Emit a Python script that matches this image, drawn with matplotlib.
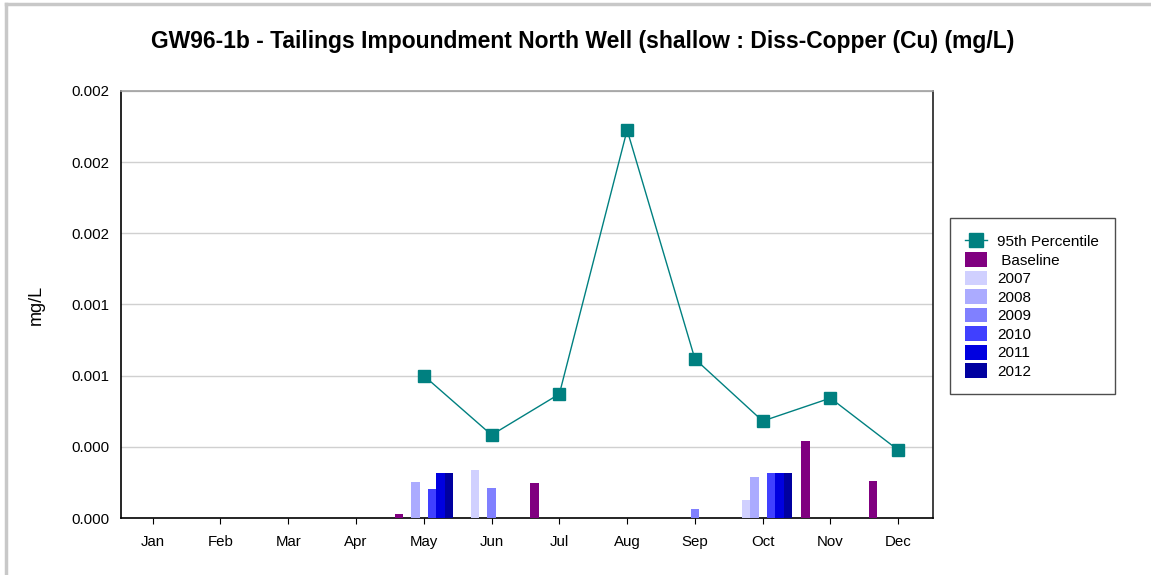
import matplotlib
matplotlib.use("Agg")
import matplotlib.pyplot as plt
import numpy as np
from matplotlib.lines import Line2D
from matplotlib.patches import Patch

plt.rcParams['font.family'] = ['Liberation Sans', 'DejaVu Sans']

meses = ['Jan', 'Feb', 'Mar', 'Apr', 'May', 'Jun', 'Jul', 'Aug', 'Sep', 'Oct', 'Nov', 'Dec']

# 95th percentile (no value Jan-Apr)
p95 = [np.nan, np.nan, np.nan, np.nan, 0.00080, 0.000467, 0.000697, 0.00218,
       0.000894, 0.000545, 0.000674, 0.000382]

series = ['Baseline', '2007', '2008', '2009', '2010', '2011', '2012']
baseline = [0, 0, 0, 0, 0.000024, 0, 0.000198, 0, 0, 0, 0.000435, 0.00021]
a2007 = [0, 0, 0, 0, 0, 0.000272, 0, 0, 0, 0.000103, 0, 0]
a2008 = [0, 0, 0, 0, 0.000204, 0, 0, 0, 0, 0.000232, 0, 0]
a2009 = [0, 0, 0, 0, 0, 0.00017, 0, 0, 0.000052, 0, 0, 0]
a2010 = [0, 0, 0, 0, 0.000165, 0, 0, 0, 0, 0.000255, 0, 0]
a2011 = [0, 0, 0, 0, 0.000255, 0, 0, 0, 0, 0.000255, 0, 0]
a2012 = [0, 0, 0, 0, 0.000255, 0, 0, 0, 0, 0.000255, 0, 0]
valores = [baseline, a2007, a2008, a2009, a2010, a2011, a2012]
cores = ['#800080', '#D0D0FF', '#ABABFF', '#8080FF', '#4040FF', '#0000E0', '#0000A0']

yticks = [0, 0.0004, 0.0008, 0.0012, 0.0016, 0.002, 0.0024]

fig = plt.figure(figsize=(11.51, 5.75), dpi=100)
ax = fig.add_axes([0.105, 0.099, 0.706, 0.743])

x = np.arange(len(meses))
larg = 0.123
for i, (nome, vals, cor) in enumerate(zip(series, valores, cores)):
    ax.bar(x + (i - 3) * larg, vals, width=larg, color=cor, zorder=3)

ax.plot(x, p95, color='#008080', lw=1, marker='s', markersize=8,
        markerfacecolor='#008080', markeredgecolor='#008080', zorder=4)

ax.set_xlim(-0.47, 11.52)
ax.set_ylim(0, 0.0024)
ax.set_xticks(x)
ax.set_xticklabels(meses, fontsize=10.8)
ax.set_yticks(yticks)
ax.set_yticklabels([f'{v:.3f}' for v in yticks], fontsize=10.8)
ax.yaxis.grid(True, color='#d0d0d0', lw=1, zorder=0)
ax.tick_params(axis='y', length=0, pad=8)
ax.tick_params(axis='x', length=4, direction='out', pad=8)
ax.set_ylabel('mg/L', fontsize=13, labelpad=19)

ax.spines['top'].set_color('#a0a0a0')
ax.spines['right'].set_color('#202020')
for s in ax.spines.values():
    s.set_linewidth(1.2)

fig.text(0.506, 0.928, 'GW96-1b - Tailings Impoundment North Well (shallow : Diss-Copper (Cu) (mg/L)',
         ha='center', va='center', fontsize=16.5, fontweight='bold')

handles = [Line2D([0], [0], color='#008080', lw=1, marker='s', markersize=10)]
handles += [Patch(facecolor=c) for c in cores]
etiquetas = ['95th Percentile', ' Baseline'] + series[1:]
leg = ax.legend(handles, etiquetas, loc='upper left', bbox_to_anchor=(1.011, 0.72),
                fontsize=11, frameon=True, fancybox=False, edgecolor='#202020',
                handlelength=1.4, handleheight=1.1, handletextpad=0.7,
                labelspacing=0.2, borderpad=1.0)
leg.get_frame().set_linewidth(1.0)

# borda cinza da figura
fig.add_artist(Line2D([0.005, 1], [0.993, 0.993], color='#c8c8c8', lw=2.5, transform=fig.transFigure))
fig.add_artist(Line2D([0.005, 0.005], [0, 0.993], color='#c8c8c8', lw=2.5, transform=fig.transFigure))

fig.savefig('out.png', dpi=100)
